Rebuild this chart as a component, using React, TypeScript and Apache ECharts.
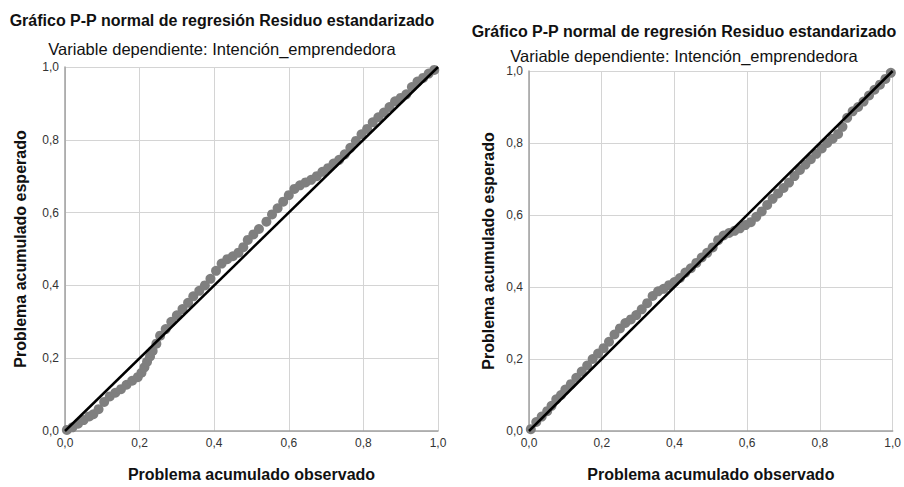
import React, { useEffect, useRef } from "react";
import * as echarts from "echarts";

const titleText = "Gráfico P-P normal de regresión Residuo estandarizado";
const subtitleText = "Variable dependiente: Intención_emprendedora";
const xAxisName = "Problema acumulado observado";
const yAxisName = "Problema acumulado esperado";
const ticks = [0, 0.2, 0.4, 0.6, 0.8, 1.0];

// Left chart: observed vs expected cumulative probability
const leftObserved = [0.005, 0.02, 0.035, 0.05, 0.065, 0.076, 0.09, 0.105, 0.12, 0.135, 0.15, 0.165, 0.18, 0.195, 0.205, 0.213, 0.22, 0.228, 0.235, 0.245, 0.255, 0.27, 0.285, 0.3, 0.315, 0.33, 0.344, 0.36, 0.375, 0.39, 0.405, 0.42, 0.435, 0.45, 0.465, 0.478, 0.49, 0.505, 0.52, 0.54, 0.555, 0.57, 0.585, 0.6, 0.615, 0.63, 0.645, 0.66, 0.675, 0.69, 0.705, 0.72, 0.735, 0.75, 0.765, 0.78, 0.795, 0.81, 0.825, 0.84, 0.855, 0.87, 0.885, 0.9, 0.915, 0.93, 0.945, 0.96, 0.975, 0.99];
const leftExpected = [0.003, 0.01, 0.02, 0.03, 0.04, 0.046, 0.06, 0.08, 0.095, 0.105, 0.115, 0.127, 0.138, 0.148, 0.16, 0.175, 0.19, 0.205, 0.22, 0.24, 0.262, 0.28, 0.3, 0.318, 0.335, 0.352, 0.37, 0.385, 0.4, 0.418, 0.44, 0.46, 0.472, 0.48, 0.49, 0.505, 0.525, 0.54, 0.555, 0.575, 0.595, 0.612, 0.63, 0.648, 0.665, 0.675, 0.683, 0.69, 0.7, 0.712, 0.722, 0.735, 0.745, 0.76, 0.778, 0.797, 0.815, 0.83, 0.848, 0.862, 0.875, 0.89, 0.906, 0.915, 0.925, 0.945, 0.96, 0.97, 0.982, 0.992];

// Right chart
const rightObserved = [0.005, 0.02, 0.035, 0.05, 0.062, 0.075, 0.088, 0.1, 0.115, 0.13, 0.145, 0.16, 0.175, 0.19, 0.205, 0.22, 0.235, 0.25, 0.265, 0.28, 0.295, 0.31, 0.325, 0.34, 0.355, 0.37, 0.385, 0.4, 0.415, 0.43, 0.445, 0.46, 0.475, 0.49, 0.505, 0.52, 0.535, 0.55, 0.565, 0.58, 0.595, 0.61, 0.625, 0.64, 0.655, 0.67, 0.685, 0.7, 0.715, 0.73, 0.745, 0.76, 0.775, 0.79, 0.805, 0.82, 0.835, 0.85, 0.862, 0.875, 0.89, 0.905, 0.92, 0.935, 0.95, 0.965, 0.98, 0.995];
const rightExpected = [0.005, 0.025, 0.04, 0.055, 0.07, 0.088, 0.1, 0.115, 0.13, 0.148, 0.165, 0.182, 0.2, 0.215, 0.23, 0.248, 0.268, 0.285, 0.3, 0.31, 0.322, 0.338, 0.355, 0.375, 0.388, 0.395, 0.405, 0.414, 0.425, 0.44, 0.452, 0.467, 0.482, 0.495, 0.51, 0.53, 0.543, 0.55, 0.556, 0.563, 0.572, 0.58, 0.595, 0.61, 0.628, 0.645, 0.66, 0.675, 0.69, 0.708, 0.725, 0.74, 0.755, 0.77, 0.785, 0.8, 0.812, 0.825, 0.845, 0.87, 0.888, 0.9, 0.915, 0.932, 0.948, 0.962, 0.978, 0.995];

const diagonal = [[0, 0], [1, 1]];

const FONT = "'Liberation Sans', Arial, sans-serif";

function fmt(v: number) {
  return v.toFixed(1).replace(".", ",");
}

function makeAxes(gridIndex: number, yGap: number) {
  const common = {
    gridIndex,
    type: "value" as const,
    min: ticks[0],
    max: ticks[ticks.length - 1],
    interval: 0.2,
    axisTick: { show: false },
    axisLine: { show: true, lineStyle: { color: "#a0a0a0", width: 1.5 } },
    splitLine: { show: true, lineStyle: { color: "#d4d4d4", width: 1 } },
    axisLabel: {
      formatter: (v: number) => fmt(v),
      color: "#333",
      fontFamily: FONT,
      fontSize: 12,
    },
    nameLocation: "middle" as const,
    nameTextStyle: { fontFamily: FONT, fontSize: 16, fontWeight: "bold" as const, color: "#111" },
  };
  return {
    x: { ...common, name: xAxisName, nameGap: 35, axisLabel: { ...common.axisLabel, margin: 6 } },
    y: { ...common, name: yAxisName, nameGap: yGap, axisLabel: { ...common.axisLabel, margin: 6 } },
  };
}

export default function App() {
  const ref = useRef<HTMLDivElement>(null);
  useEffect(() => {
    if (!ref.current) return;
    const chart = echarts.init(ref.current, undefined, { renderer: "svg" });
    const a0 = makeAxes(0, 37);
    const a1 = makeAxes(1, 33);
    const leftData = leftObserved.map((x, i) => [x, leftExpected[i]]);
    const rightData = rightObserved.map((x, i) => [x, rightExpected[i]]);
    const text = (t: string, x: number, y: number, bold: boolean, size: number) => ({
      type: "text",
      x,
      y,
      style: {
        text: t,
        align: "center",
        verticalAlign: "middle",
        textAlign: "center",
        textVerticalAlign: "middle",
        fill: "#111",
        font: `${bold ? "bold " : ""}${size}px ${FONT}`,
      },
    });
    chart.setOption({
      animation: false,
      backgroundColor: "#ffffff",
      grid: [
        { left: 65, top: 67, width: 373, height: 370 },
        { left: 529, top: 71, width: 368, height: 368 },
      ],
      xAxis: [a0.x, a1.x],
      yAxis: [a0.y, a1.y],
      graphic: [
        text(titleText, 222, 20, true, 16),
        text(subtitleText, 222, 49, false, 16.5),
        text(titleText, 684, 31, true, 16),
        text(subtitleText, 684, 56, false, 16.5),
      ],
      series: [
        {
          type: "scatter",
          xAxisIndex: 0,
          yAxisIndex: 0,
          data: leftData,
          symbolSize: 10,
          itemStyle: { color: "#7f7f7f", opacity: 1 },
          z: 2,
        },
        {
          type: "line",
          xAxisIndex: 0,
          yAxisIndex: 0,
          data: diagonal,
          symbol: "none",
          lineStyle: { color: "#000", width: 2.5 },
          z: 3,
        },
        {
          type: "scatter",
          xAxisIndex: 1,
          yAxisIndex: 1,
          data: rightData,
          symbolSize: 10,
          itemStyle: { color: "#7f7f7f", opacity: 1 },
          z: 2,
        },
        {
          type: "line",
          xAxisIndex: 1,
          yAxisIndex: 1,
          data: diagonal,
          symbol: "none",
          lineStyle: { color: "#000", width: 2.5 },
          z: 3,
        },
      ],
    });
    return () => chart.dispose();
  }, []);
  return (
    <div
      ref={ref}
      style={{ position: "fixed", left: 0, top: 0, width: 904, height: 487, background: "#fff" }}
    />
  );
}
